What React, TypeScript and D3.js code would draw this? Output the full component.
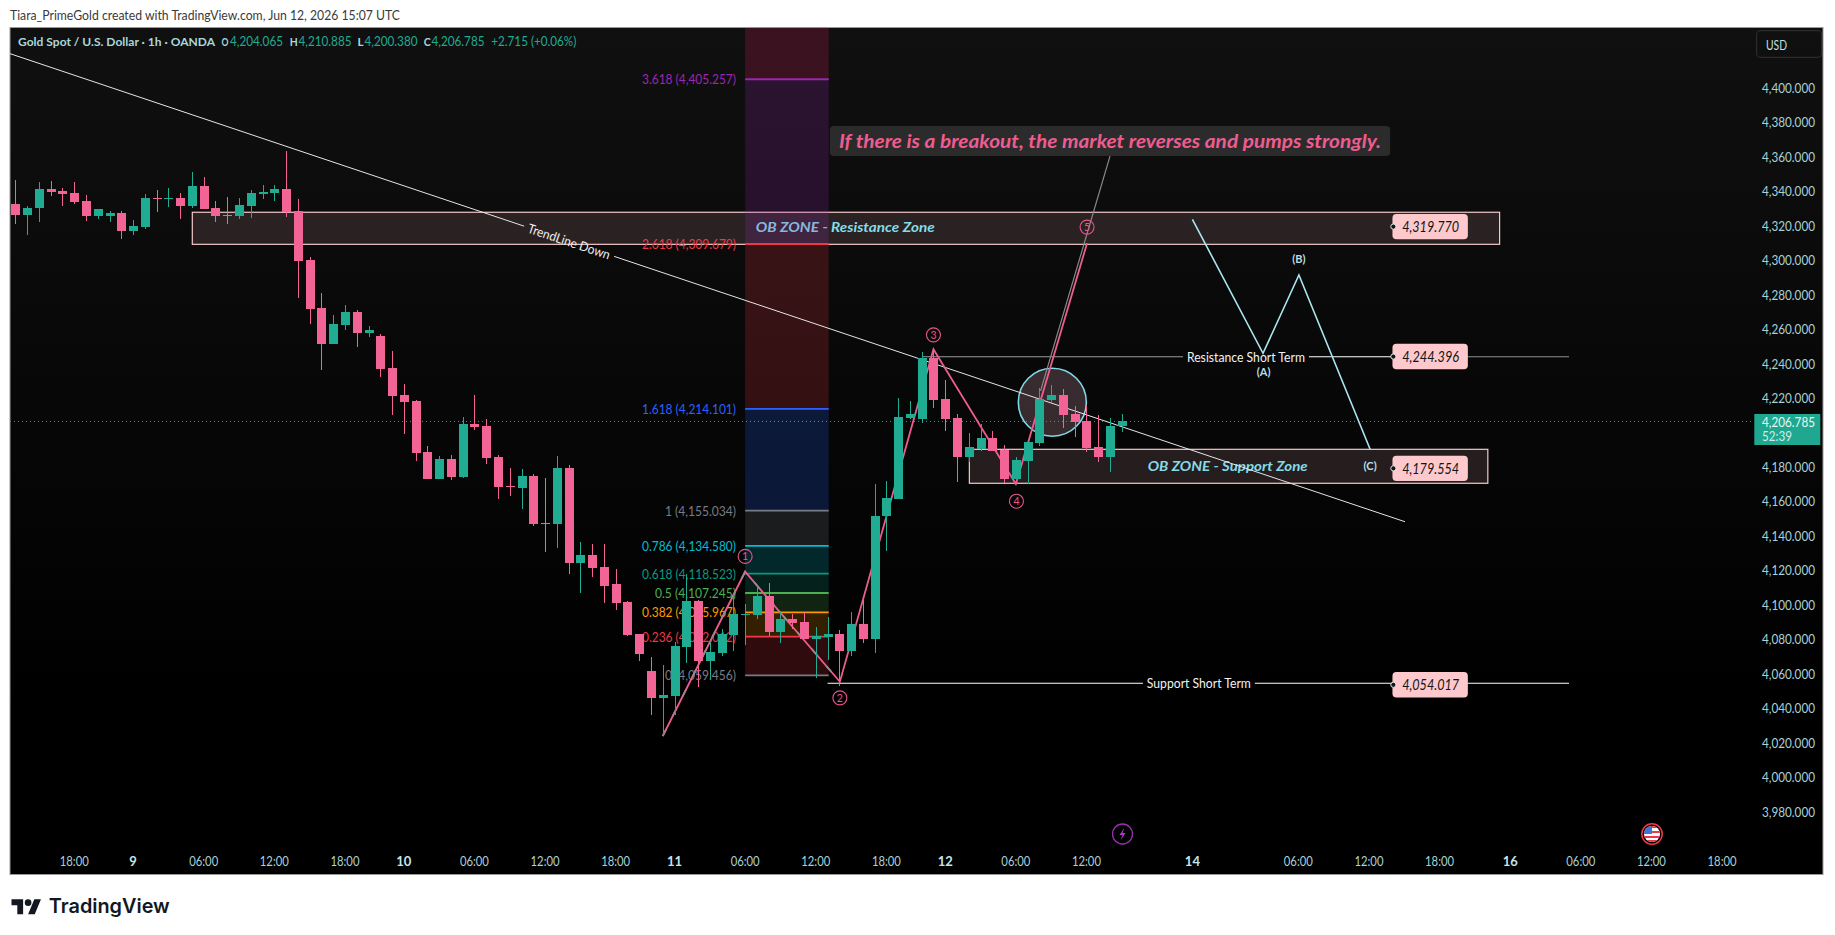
import React from "react";
import * as d3 from "d3";

const opens = [4332.7,4326.3,4330.4,4341.4,4340.2,4339.1,4334.4,4325.7,4325.7,4327.5,4317.0,4319.4,4336.2,4335.6,4336.2,4331.5,4343.1,4330.4,4326.3,4325.7,4331.5,4338.5,4339.1,4341.4,4328.6,4300.2,4272.4,4251.5,4262.5,4270.1,4257.9,4256.1,4237.6,4221.9,4218.4,4188.9,4173.2,4184.8,4174.3,4205.1,4203.9,4185.9,4169.1,4168.0,4174.9,4147.7,4147.1,4179.6,4124.5,4129.1,4122.2,4112.3,4101.9,4083.3,4061.8,4046.2,4047.3,4075.8,4102.4,4067.6,4072.3,4082.7,4094.3,4094.3,4105.3,4084.5,4092.0,4090.3,4080.4,4081.6,4083.3,4073.4,4089.1,4080.4,4151.7,4161.6,4208.6,4208.0,4243.4,4219.6,4208.6,4186.0,4190.6,4197.0,4190.0,4173.2,4183.6,4194.1,4219.0,4221.9,4210.9,4206.8,4191.8,4186.0,4204.065];
const highs = [4346.6,4331.5,4345.5,4346.0,4342.0,4345.5,4337.9,4329.8,4328.6,4328.6,4323.4,4338.5,4340.8,4342.0,4339.1,4351.3,4348.4,4334.4,4336.8,4336.2,4340.8,4343.7,4343.7,4363.4,4335.6,4302.0,4281.1,4268.3,4274.1,4271.2,4261.9,4257.3,4247.4,4228.3,4219.0,4192.3,4186.5,4187.1,4209.2,4221.9,4208.0,4187.1,4179.6,4179.0,4176.1,4173.8,4186.5,4181.3,4137.0,4135.5,4135.5,4121.0,4102.4,4083.3,4070.0,4065.3,4078.7,4118.1,4103.0,4079.2,4086.2,4106.5,4100.7,4111.3,4112.9,4096.6,4094.9,4096.1,4087.4,4093.2,4085.6,4096.1,4103.0,4170.3,4172.0,4220.2,4218.4,4246.9,4248.6,4230.6,4210.9,4199.9,4205.1,4201.0,4192.9,4186.0,4194.7,4226.0,4227.7,4225.4,4215.5,4215.5,4210.3,4208.6,4210.885];
const lows = [4321.1,4314.7,4322.3,4337.3,4331.5,4332.7,4322.8,4324.0,4322.3,4312.4,4314.7,4318.2,4328.1,4331.0,4324.0,4330.4,4329.8,4322.3,4321.1,4324.0,4324.6,4335.6,4334.4,4325.2,4278.2,4263.1,4236.6,4251.5,4259.6,4249.8,4255.6,4232.4,4210.3,4199.3,4183.6,4173.2,4173.2,4172.6,4173.8,4201.6,4181.9,4161.6,4163.3,4155.8,4145.9,4130.9,4133.2,4118.1,4107.1,4116.4,4101.3,4097.2,4082.1,4067.6,4036.3,4024.7,4036.3,4066.5,4052.6,4057.2,4070.5,4073.4,4076.9,4092.0,4082.3,4078.1,4086.2,4080.4,4057.8,4068.2,4053.1,4070.5,4078.1,4072.3,4131.4,4161.6,4208.0,4205.7,4214.4,4201.0,4171.5,4183.1,4189.4,4189.4,4170.9,4173.2,4170.3,4192.3,4217.3,4202.8,4197.6,4188.9,4183.1,4177.3,4200.38];
const closes = [4326.3,4330.4,4341.4,4339.7,4338.5,4333.9,4325.7,4329.8,4327.5,4317.0,4319.9,4336.2,4335.6,4336.2,4331.5,4343.1,4329.8,4325.7,4325.7,4332.1,4339.1,4339.7,4341.4,4328.1,4299.6,4271.8,4251.5,4263.1,4270.1,4257.9,4259.6,4237.0,4221.3,4217.9,4188.3,4173.2,4184.8,4174.3,4205.1,4203.4,4185.4,4168.6,4168.6,4174.9,4147.1,4147.1,4179.6,4124.5,4129.1,4121.6,4111.1,4101.3,4082.7,4071.7,4046.2,4047.9,4076.3,4102.4,4067.6,4072.9,4083.3,4094.9,4094.9,4105.3,4084.5,4092.0,4089.7,4080.4,4082.1,4083.3,4073.4,4089.1,4080.4,4151.7,4162.2,4209.2,4210.9,4243.4,4219.0,4208.0,4186.0,4191.8,4197.0,4189.4,4173.2,4184.2,4194.7,4219.6,4221.9,4210.3,4206.3,4191.2,4186.0,4204.0,4206.785];

const priceTicks = [3980,4000,4020,4040,4060,4080,4100,4120,4140,4160,4180,4220,4240,4260,4280,4300,4320,4340,4360,4380,4400];
const timeTickBars = [5,10,16,22,28,33,39,45,51,56,62,68,74,79,85,91,100,109,115,121,127,133,139,145];
const timeTickLabels = ["18:00","9","06:00","12:00","18:00","10","06:00","12:00","18:00","11","06:00","12:00","18:00","12","06:00","12:00","14","06:00","12:00","18:00","16","06:00","12:00","18:00"];

const fibRatios = [0,0.236,0.382,0.5,0.618,0.786,1,1.618,2.618,3.618];
const fibPrices = [4059.456,4082.012,4095.967,4107.245,4118.523,4134.58,4155.034,4214.101,4309.679,4405.257];
const fibLineColors = ["#787b86","#f23645","#ff9800","#4caf50","#089981","#00bcd4","#787b86","#2962ff","#f23645","#9c27b0"];
const fibBandColors = ["#f23645","#ff9800","#4caf50","#089981","#00bcd4","#787b86","#2962ff","#f23645","#9c27b0","#e91e63"];
const fibLabelWidths = [71,94,94,81,94,94,71,94,94,94];
const fibBars = [62,69.1];
const priceTop = 4445;

const wavePath: [number,number][] = [[55,4024.3],[62,4119.6],[70.05,4055.8],[78,4248.6],[85,4170.5],[91.05,4310.1]];
const waveLabels = ["1","2","3","4","5"];
const waveLabelAnchors: [number,number][] = [[62,4128.5],[70.05,4046.4],[78,4257],[85.05,4160.5],[91.05,4319.5]];
const fibTrendPath: [number,number][] = [[55,4024.3],[62,4119.6],[70.05,4055.8]];
const abcPath: [number,number][] = [[100,4324],[106,4246.3],[109.05,4291.7],[115.1,4190.6]];
const abcLabels = ["(A)","(B)","(C)"];
const abcLabelAnchors: [number,number][] = [[106.05,4235.7],[109.05,4301.4],[115.1,4181.4]];

const trendStart: [number,number] = [-0.46,4420.1];
const trendEnd: [number,number] = [118.06,4148.6];
const trendGapFractions = [0.3686,0.4331];

const resistanceZone = { bars:[15.03,126.1], prices:[4328.1,4309.5], label:"OB ZONE - Resistance Zone", labelBar:70.5, labelPrice:4319.8 };
const supportZone = { bars:[81.05,125.1], prices:[4190.6,4170.9], label:"OB ZONE - Support Zone", labelBar:103, labelPrice:4181.4 };

const hlines = [
  { label:"Resistance Short Term", price:4244.3, bars:[77.1,132], gap:[99.2,109.9], labelBar:104.55, leftColor:"#9a9a9a", midColor:"#ffffff", rightColor:"#8f8f8f" },
  { label:"Support Short Term", price:4054.9, bars:[69,132], gap:[95.8,105.3], labelBar:100.55, leftColor:"#ffffff", midColor:"#ffffff", rightColor:"#ffffff" },
];
const priceTags = [4319.77,4244.396,4179.554,4054.017];
const priceTagBar = 120.2;

const callout = { text:"If there is a breakout, the market reverses and pumps strongly.", bars:[69.2,116.8], prices:[4378.1,4360.7], pointer:[[87.1,4224.5],[93,4360.7]] as [number,number][] };
const breakoutCircle = { bar:88.1, price:4217.9, edgeBar:90.99 };

const legendKeys = ["O","H","L","C"];
const legendValues = ["4,204.065","4,210.885","4,200.380","4,206.785"];

const lastPrice = 4206.785;
const GREEN = "#20ab93";
const PINK = "#f26396";
const FONT = "Lato, 'Noto Sans', sans-serif";
const AXIS = "#a9d2d7";

const W = 1835, H = 935;
const L = 10, R = 1823, T = 27.5, B = 874.5;
const legendKeyX = [221.5,289.7,357.5,423.7];
const legendKeyW = [7,8,6,7];
const legendValueX = [230,298.5,364.5,431.5];

const x = d3.scaleLinear().domain([0,94]).range([15.4,15.4+94*11.77]);
const y = d3.scaleLinear().domain([3980,4400]).range([812.4,88.3]);
const fmt = d3.format(",.3f");
const poly = d3.line<[number,number]>().x(d=>x(d[0])).y(d=>y(d[1]));

function Txt(p:any){
  const {w, children, ...r} = p;
  return <text fontFamily={FONT} dominantBaseline="central" {...(w?{textLength:w,lengthAdjust:"spacingAndGlyphs"}:{})} {...r}>{children}</text>;
}

export default function App(){
  const trendPt = (t:number)=>[d3.interpolateNumber(trendStart[0],trendEnd[0])(t), d3.interpolateNumber(trendStart[1],trendEnd[1])(t)] as [number,number];
  const g0 = trendPt(trendGapFractions[0]), g1 = trendPt(trendGapFractions[1]);
  const tmid = trendPt((trendGapFractions[0]+trendGapFractions[1])/2);
  const ang = Math.atan2(y(trendEnd[1])-y(trendStart[1]), x(trendEnd[0])-x(trendStart[0]))*180/Math.PI;
  const circR = x(breakoutCircle.edgeBar)-x(breakoutCircle.bar);
  const fibX0 = x(fibBars[0]), fibX1 = x(fibBars[1]);

  const zoneRect = (z:any)=>(
    <rect x={x(z.bars[0])} y={y(z.prices[0])} width={x(z.bars[1])-x(z.bars[0])} height={y(z.prices[1])-y(z.prices[0])} fill="rgba(255,190,190,0.13)" stroke="#f5c9c9" strokeWidth={1.2}/>
  );

  return (
    <svg width={W} height={H} viewBox={`0 0 ${W} ${H}`} style={{position:"fixed",left:0,top:0,display:"block",background:"#fff"}}>
      <defs>
        <linearGradient id="bg" x1="0" x2="0" y1="0" y2="1">
          <stop offset="0" stopColor="#101010"/>
          <stop offset="0.8" stopColor="#000"/>
          <stop offset="1" stopColor="#000"/>
        </linearGradient>
        <clipPath id="plot"><rect x={L} y={T} width={R-L} height={B-T}/></clipPath>
      </defs>
      <Txt x={10} y={14.7} fontSize={13} fill="#3a3a3a" w={390}>Tiara_PrimeGold created with TradingView.com, Jun 12, 2026 15:07 UTC</Txt>
      <rect x={L} y={T} width={R-L} height={B-T} fill="url(#bg)" stroke="#9a9a9a" strokeWidth={1}/>

      <g clipPath="url(#plot)">
        {zoneRect(resistanceZone)}
        {zoneRect(supportZone)}
        <Txt x={x(resistanceZone.labelBar)} y={y(resistanceZone.labelPrice)} textAnchor="middle" fontSize={14} fontWeight={700} fontStyle="italic" fill="#84dbe8" w={179}>{resistanceZone.label}</Txt>
        <Txt x={x(supportZone.labelBar)} y={y(supportZone.labelPrice)} textAnchor="middle" fontSize={14} fontWeight={700} fontStyle="italic" fill="#84dbe8" w={160}>{supportZone.label}</Txt>

        {/* fib bands */}
        {fibBandColors.map((c,i)=>{
          const lo = fibPrices[i], hi = i+1<fibPrices.length?fibPrices[i+1]:priceTop;
          return <rect key={i} x={fibX0} width={fibX1-fibX0} y={y(hi)} height={y(lo)-y(hi)} fill={c} fillOpacity={0.2}/>;
        })}
        {fibPrices.map((p,i)=>(
          <g key={i}>
            <line x1={fibX0} x2={fibX1} y1={y(p)} y2={y(p)} stroke={fibLineColors[i]} strokeWidth={1.8}/>
            <Txt x={736} y={y(p)} textAnchor="end" fontSize={13} fill={fibLineColors[i]} w={fibLabelWidths[i]}>{`${fibRatios[i]} (${fmt(p)})`}</Txt>
          </g>
        ))}

        {/* breakout circle */}
        <circle cx={x(breakoutCircle.bar)} cy={y(breakoutCircle.price)} r={circR} fill="rgba(255,190,215,0.2)" stroke="#7fd9e6" strokeWidth={1.6}/>

        {/* last price */}
        <line x1={L} x2={1754} y1={y(lastPrice)} y2={y(lastPrice)} stroke={GREEN} strokeWidth={1} strokeDasharray="1 3"/>

        {/* trend line */}
        <line x1={x(trendStart[0])} y1={y(trendStart[1])} x2={x(g0[0])} y2={y(g0[1])} stroke="#e6e6e6" strokeWidth={1}/>
        <line x1={x(g1[0])} y1={y(g1[1])} x2={x(trendEnd[0])} y2={y(trendEnd[1])} stroke="#e6e6e6" strokeWidth={1}/>
        <Txt x={x(tmid[0])} y={y(tmid[1])} textAnchor="middle" fontSize={13} fill="#f0f0f0" w={86} transform={`rotate(${ang} ${x(tmid[0])} ${y(tmid[1])})`}>TrendLine Down</Txt>

        {/* horizontal levels */}
        {hlines.map((h,i)=>{
          const yy = y(h.price);
          return (
            <g key={i}>
              <line x1={x(h.bars[0])} x2={x(h.gap[0])} y1={yy} y2={yy} stroke={h.leftColor} strokeWidth={1.2}/>
              <line x1={x(h.gap[1])} x2={x(priceTagBar)} y1={yy} y2={yy} stroke={h.midColor} strokeWidth={1.2}/>
              <line x1={x(priceTagBar)} x2={x(h.bars[1])} y1={yy} y2={yy} stroke={h.rightColor} strokeWidth={1.2}/>
              <Txt x={x(h.labelBar)} y={yy} textAnchor="middle" fontSize={13} fill="#f2f2f2" w={i===0?118:104}>{h.label}</Txt>
            </g>
          );
        })}

        {/* callout pointer */}
        <path d={poly(callout.pointer)||""} fill="none" stroke="#8a8a8a" strokeWidth={1.2}/>

        {/* waves */}
        <path d={poly(wavePath)||""} fill="none" stroke="#ee5c90" strokeWidth={1.8}/>
        <path d={poly(fibTrendPath)||""} fill="none" stroke="#8c8c8c" strokeWidth={1.8} strokeDasharray="8 14"/>
        <path d={poly(abcPath)||""} fill="none" stroke="#a9e6ee" strokeWidth={1.6}/>
        {waveLabels.map((t,i)=>(
          <g key={t}>
            <circle cx={x(waveLabelAnchors[i][0])} cy={y(waveLabelAnchors[i][1])} r={7} fill="none" stroke="#e8558c" strokeWidth={1.1}/>
            <Txt x={x(waveLabelAnchors[i][0])} y={y(waveLabelAnchors[i][1])} textAnchor="middle" fontSize={10.5} fill="#e8558c">{t}</Txt>
          </g>
        ))}
        {abcLabels.map((t,i)=>(
          <Txt key={t} x={x(abcLabelAnchors[i][0])} y={y(abcLabelAnchors[i][1])} textAnchor="middle" fontSize={11} fontWeight={700} fill="#b9dfe4">{t}</Txt>
        ))}

        {/* candles */}
        {opens.map((o,i)=>{
          const c = closes[i], col = c>=o?GREEN:PINK, xx = Math.round(x(i));
          const top = Math.round(y(Math.max(o,c))), bot = Math.round(y(Math.min(o,c)));
          return (
            <g key={i} shapeRendering="crispEdges">
              <rect x={xx} y={Math.round(y(highs[i]))} width={1} height={Math.round(y(lows[i]))-Math.round(y(highs[i]))} fill={col}/>
              <rect x={xx-4} y={top} width={9} height={Math.max(1,bot-top)} fill={col}/>
            </g>
          );
        })}

        {/* price tags */}
        {priceTags.map((p,i)=>{
          const yy = y(p), xc = x(priceTagBar);
          return (
            <g key={i}>
              <rect x={xc-37.7} y={yy-12.7} width={75.4} height={25.4} rx={4} fill="#fdc9cd"/>
              <circle cx={xc-36.8} cy={yy} r={2.6} fill="#161616" stroke="#e8e8e8" strokeWidth={1}/>
              <Txt x={xc+0.5} y={yy} textAnchor="middle" fontSize={14.5} fontStyle="italic" fill="#141414" w={57}>{fmt(p)}</Txt>
            </g>
          );
        })}

        {/* callout */}
        <rect x={x(callout.bars[0])} y={y(callout.prices[0])} width={x(callout.bars[1])-x(callout.bars[0])} height={y(callout.prices[1])-y(callout.prices[0])} rx={4} fill="#2b2b2b"/>
        <Txt x={(x(callout.bars[0])+x(callout.bars[1]))/2} y={(y(callout.prices[0])+y(callout.prices[1]))/2} textAnchor="middle" fontSize={18} fontWeight={700} fontStyle="italic" fill="#ee5c90" w={542}>{callout.text}</Txt>

        {/* legend */}
        <Txt x={18} y={41.3} fontSize={12} fontWeight={700} fill="#a9d8dc" w={197}>Gold Spot / U.S. Dollar · 1h · OANDA</Txt>
        {legendKeys.map((k,i)=>(
          <g key={k}>
            <Txt x={legendKeyX[i]} y={41.3} fontSize={12} fontWeight={700} fill="#a9d8dc" w={legendKeyW[i]}>{k}</Txt>
            <Txt x={legendValueX[i]} y={41.3} fontSize={13} fill={GREEN} w={53}>{legendValues[i]}</Txt>
          </g>
        ))}
        <Txt x={491.3} y={41.3} fontSize={13} fill={GREEN} w={85}>+2.715 (+0.06%)</Txt>

        {/* USD */}
        <rect x={1756.6} y={30.7} width={65} height={26.6} rx={4} fill="none" stroke="#2b2b2b" strokeWidth={1.2}/>
        <Txt x={1766} y={44.7} fontSize={13} fill="#bfe2e6" w={21}>USD</Txt>

        {/* price axis */}
        {priceTicks.map(p=>(
          <Txt key={p} x={1815} y={y(p)-0.6} textAnchor="end" fontSize={13} fill={AXIS} w={53}>{fmt(p)}</Txt>
        ))}
        <rect x={1754.3} y={414} width={66} height={31} fill="#1fa78f"/>
        <Txt x={1762} y={422} fontSize={13} fill="#e9f7f4" w={53}>{fmt(lastPrice)}</Txt>
        <Txt x={1762} y={435.7} fontSize={13} fill="#cfeee8" w={30}>52:39</Txt>

        {/* time axis */}
        {timeTickBars.map((b,i)=>{
          const day = timeTickLabels[i].length<3;
          return <Txt key={i} x={x(b)} y={860.7} textAnchor="middle" fontSize={13} fontWeight={day?700:400} fill={day?"#c4e6ea":AXIS} w={day?undefined:29}>{timeTickLabels[i]}</Txt>;
        })}

        {/* markers */}
        <circle cx={1122.5} cy={834} r={10} fill="#000" stroke="#9c2fb0" strokeWidth={1.3}/>
        <path d="M1124.5 827.5 L1119.5 835 L1122.5 835 L1120.5 840.5 L1125.5 833 L1122.5 833 Z" fill="#a93fc0"/>
        <circle cx={1652} cy={834} r={10.2} fill="#000" stroke="#f23645" strokeWidth={1.5}/>
        <clipPath id="flag"><circle cx={1652} cy={834} r={8}/></clipPath>
        <g clipPath="url(#flag)" shapeRendering="crispEdges">
          <rect x={1644} y={826} width={16} height={16} fill="#fff"/>
          {[826,831,836,840].map(s=><rect key={s} x={1644} y={s} width={16} height={2.2} fill="#e8394a"/>)}
          <rect x={1644} y={826} width={8} height={8} fill="#3f73d8"/>
        </g>
      </g>

      {/* logo */}
      <g transform="translate(11.5 896) scale(0.83)" fill="#131722">
        <path d="M14 22H7V11H0V4h14v18zM28 22h-8l7.5-18h8L28 22z"/>
        <circle cx={20} cy={8} r={4}/>
      </g>
      <Txt x={48.8} y={905.5} fontSize={20} fontWeight={600} fill="#131722" w={121} style={{fontFamily:"Inter, sans-serif"}}>TradingView</Txt>
    </svg>
  );
}
